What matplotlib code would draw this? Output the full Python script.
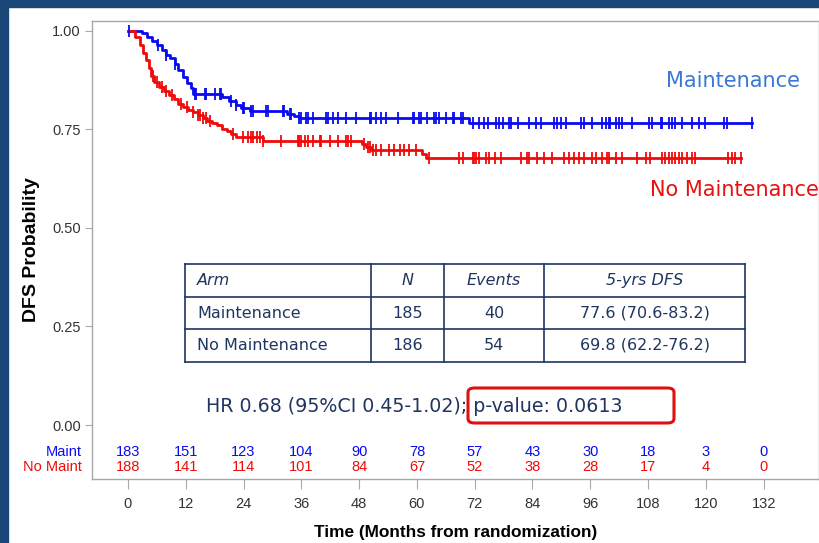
import matplotlib
matplotlib.use("Agg")
import matplotlib.pyplot as plt
import numpy as np
from matplotlib.patches import Rectangle, FancyBboxPatch

# --- data ---
maint_t = [0, 2.9, 4.0, 5.0, 6.0, 7.0, 8.0, 8.8, 9.7, 10.5, 11.4, 12.2, 13.0, 13.6,
           19.5, 21.0, 22.5, 23.5, 25.3, 33.0, 34.5, 35.5, 70.9]
maint_s = [1.0, 0.995, 0.985, 0.975, 0.963, 0.952, 0.940, 0.930, 0.915, 0.900, 0.882,
           0.868, 0.855, 0.840, 0.832, 0.823, 0.812, 0.805, 0.797, 0.790, 0.785, 0.780, 0.766]
maint_end = 129.6
maint_cens = [0.3, 6.3, 8.0, 9.7, 13.9, 14.2, 16.0, 16.3, 18.0, 19.1, 19.4, 21.5, 22.5,
              23.9, 24.2, 25.6, 25.9, 28.7, 29.1, 32.2, 32.5, 33.6, 33.9, 35.6, 36.0,
              37.0, 37.4, 38.4, 41.2, 41.5, 42.5, 43.6, 45.3, 47.4, 50.2, 50.5, 51.5,
              52.6, 53.6, 56.0, 59.1, 59.5, 60.5, 60.9, 62.2, 63.6, 63.9, 64.6, 66.0,
              67.4, 67.8, 69.1, 69.5, 71.6, 72.9, 74.0, 74.7, 76.4, 77.1, 77.8, 79.2,
              79.5, 80.9, 83.3, 84.7, 85.7, 88.5, 89.2, 89.9, 90.9, 94.0, 94.7, 96.4,
              98.5, 99.2, 99.9, 100.2, 101.3, 101.9, 102.6, 104.7, 108.2, 108.8, 110.6,
              110.9, 112.3, 113.0, 113.7, 115.1, 117.1, 118.5, 119.9, 123.7, 124.4, 129.6]

nomaint_t = [0, 1.5, 2.5, 3.2, 3.8, 4.3, 4.8, 5.5, 6.5, 7.5, 8.5, 9.5, 10.5, 11.5, 12.5,
             13.5, 14.5, 15.5, 16.5, 17.5, 18.5, 19.5, 20.5, 21.5, 22.5, 28.0, 48.7,
             49.5, 50.5, 61.0, 61.8]
nomaint_s = [1.0, 0.985, 0.965, 0.945, 0.925, 0.905, 0.885, 0.870, 0.858, 0.848, 0.836,
             0.826, 0.815, 0.806, 0.800, 0.793, 0.786, 0.779, 0.772, 0.766, 0.760, 0.752,
             0.745, 0.738, 0.730, 0.720, 0.712, 0.705, 0.698, 0.688, 0.678]
nomaint_end = 127.2
nomaint_cens = [5.2, 6.0, 7.0, 8.0, 9.1, 11.1, 12.2, 13.5, 14.6, 14.9, 15.6, 16.3, 17.0,
                21.8, 23.9, 24.9, 25.6, 25.9, 26.7, 27.4, 28.0, 31.8, 35.3, 35.6, 36.0,
                36.7, 37.4, 38.4, 39.8, 40.1, 41.9, 43.6, 45.3, 45.6, 46.3, 49.1, 49.8,
                50.2, 50.8, 51.5, 52.6, 54.3, 55.3, 56.4, 57.4, 58.4, 59.8, 62.6, 68.8,
                69.5, 71.6, 71.9, 72.3, 72.9, 74.3, 75.0, 76.3, 77.4, 81.6, 82.9, 83.3,
                85.0, 86.4, 88.1, 90.6, 91.6, 92.6, 93.7, 94.7, 96.4, 97.1, 98.5, 99.5,
                99.9, 101.3, 102.6, 105.7, 107.5, 108.5, 110.9, 111.6, 112.3, 113.0,
                113.7, 114.4, 115.1, 116.1, 117.1, 117.8, 124.7, 125.4, 126.1, 127.2]

risk_times = [0, 12, 24, 36, 48, 60, 72, 84, 96, 108, 120, 132]
risk_maint = [183, 151, 123, 104, 90, 78, 57, 43, 30, 18, 3, 0]
risk_nomaint = [188, 141, 114, 101, 84, 67, 52, 38, 28, 17, 4, 0]

table_cols = ["Arm", "N", "Events", "5-yrs DFS"]
table_rows = [["Maintenance", "185", "40", "77.6 (70.6-83.2)"],
              ["No Maintenance", "186", "54", "69.8 (62.2-76.2)"]]

BLUE = "#0a0af0"
RED = "#f00a0a"
NAVY = "#1f3560"
narrow = ["Liberation Sans", "DejaVu Sans"]
wide = ["DejaVu Sans"]

fig = plt.figure(figsize=(8.19, 5.43), dpi=100)
fig.patch.set_facecolor("white")
# dark blue slide frame (left and top)
fig.patches.append(Rectangle((0, 0), 8 / 819, 1, transform=fig.transFigure,
                             color="#1b4878", zorder=0))
fig.patches.append(Rectangle((0, 1 - 7 / 543), 1, 7 / 543, transform=fig.transFigure,
                             color="#1b4878", zorder=0))

ax = fig.add_axes([92 / 819, 1 - 479 / 543, 1 - 92 / 819, (479 - 21) / 543])
ax.set_xlim(-7.46, 143.5)
ax.set_ylim(-0.137, 1.025)


def draw_arm(times, surv, end, cens, color):
    tt = list(times) + [end]
    ss = list(surv) + [surv[-1]]
    ax.step(tt, ss, where="post", color=color, lw=2.0, zorder=3)
    idx = np.searchsorted(times, cens, side="right") - 1
    ax.plot(cens, np.array(surv)[idx], ls="none", marker="|", ms=9, mew=1.3,
            color=color, zorder=4)


draw_arm(maint_t, maint_s, maint_end, maint_cens, BLUE)
draw_arm(nomaint_t, nomaint_s, nomaint_end, nomaint_cens, RED)

# axes styling
for sp in ax.spines.values():
    sp.set_color("#a8a8a8")
    sp.set_linewidth(1.0)
ax.set_yticks([0, 0.25, 0.5, 0.75, 1.0])
ax.set_yticklabels(["0.00", "0.25", "0.50", "0.75", "1.00"])
ax.set_xticks(risk_times)
ax.tick_params(axis="both", colors="#a8a8a8", labelcolor="#333333", labelsize=10.5)
ax.tick_params(axis="x", length=7, pad=6)
ax.tick_params(axis="y", length=5, pad=3)
for lab in ax.get_xticklabels() + ax.get_yticklabels():
    lab.set_family(narrow)

ax.set_ylabel("DFS Probability", fontsize=14, fontweight="bold", family=narrow,
              labelpad=9)
ax.set_xlabel("Time (Months from randomization)", fontsize=12.4, fontweight="bold",
              family=narrow, labelpad=10)

# number at risk rows
for t, a, b in zip(risk_times, risk_maint, risk_nomaint):
    ax.text(t, -0.0685, str(a), color=BLUE, ha="center", va="center", fontsize=10.5,
            family=narrow)
    ax.text(t, -0.1066, str(b), color=RED, ha="center", va="center", fontsize=10.5,
            family=narrow)
ax.text(-9.5, -0.0685, "Maint", color=BLUE, ha="right", va="center", fontsize=10.5,
        family=narrow, clip_on=False)
ax.text(-9.5, -0.1066, "No Maint", color=RED, ha="right", va="center", fontsize=10.5,
        family=narrow, clip_on=False)

# arm labels
fig.text(800 / 819, 1 - 81 / 543, "Maintenance", color="#3a78d8", ha="right", va="center",
         fontsize=15, family=wide)
fig.text(819 / 819, 1 - 190 / 543, "No Maintenance", color="#e81010", ha="right",
         va="center", fontsize=15, family=wide)

# summary table drawn in figure pixels
W, H = 819, 543
col_x = [185, 371, 444, 544, 745]
row_y = [264, 297, 329, 362]
for x in col_x:
    fig.add_artist(plt.Line2D([x / W, x / W], [1 - row_y[0] / H, 1 - row_y[-1] / H],
                              color=NAVY, lw=1.2))
for y in row_y:
    fig.add_artist(plt.Line2D([col_x[0] / W, col_x[-1] / W], [1 - y / H, 1 - y / H],
                              color=NAVY, lw=1.2))
all_rows = [table_cols] + table_rows
for r, row in enumerate(all_rows):
    yc = 1 - (row_y[r] + row_y[r + 1]) / 2 / H
    for c, txt in enumerate(row):
        style = "italic" if r == 0 else "normal"
        if c == 0:
            fig.text((col_x[0] + 12) / W, yc, txt, ha="left", va="center", fontsize=11.5,
                     color=NAVY, style=style, family=wide)
        else:
            fig.text((col_x[c] + col_x[c + 1]) / 2 / W, yc, txt, ha="center", va="center",
                     fontsize=11.5, color=NAVY, style=style, family=wide)

# HR text and highlighted p-value
fig.text(206 / W, 1 - 406 / H, "HR 0.68 (95%CI 0.45-1.02); p-value: 0.0613", ha="left",
         va="center", fontsize=13.7, color=NAVY, family=wide)
box = FancyBboxPatch((468 / W, 1 - 423 / H), (674 - 468) / W, (423 - 388) / H,
                     boxstyle="round,pad=0,rounding_size=0.008", transform=fig.transFigure,
                     fill=False, ec="#e01010", lw=2.2)
fig.patches.append(box)

fig.savefig("out.png", dpi=100)
